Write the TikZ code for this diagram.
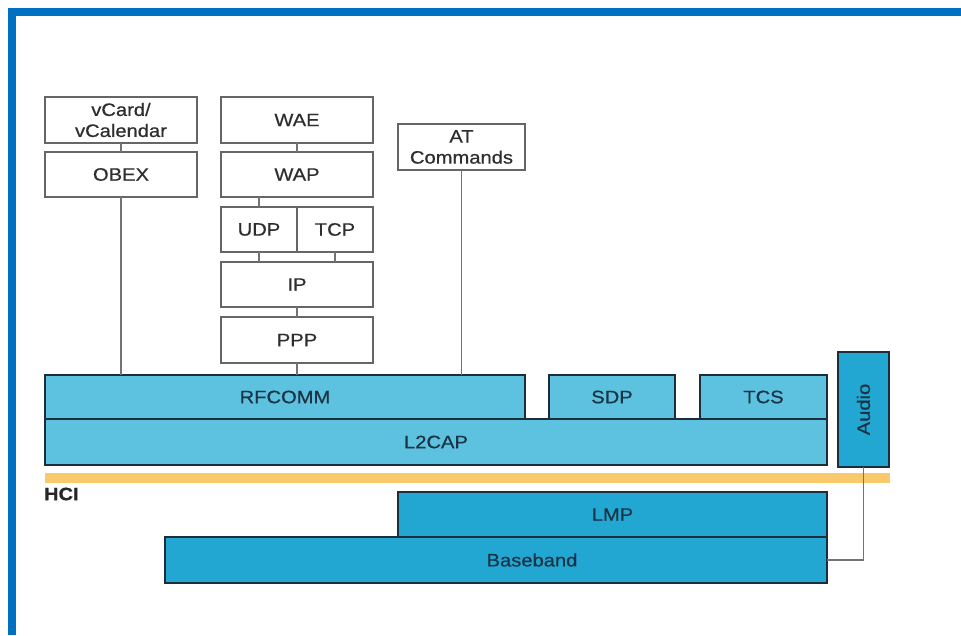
\documentclass[tikz,border=0pt]{standalone}
\usepackage{fontspec}
\setmainfont{Liberation Sans}[FakeStretch=1.12, FakeBold=0.6]
\definecolor{frameblue}{HTML}{0070C0}
\definecolor{lightcy}{HTML}{5CC2E0}
\definecolor{darkcy}{HTML}{22A6D2}
\definecolor{navyedge}{HTML}{1C2E3B}
\definecolor{hciorange}{HTML}{F9C96B}
\definecolor{graytext}{HTML}{2E2E2E}
\definecolor{bluetext}{HTML}{1A3446}
\begin{document}
\begin{tikzpicture}[x=1pt,y=-1pt,
  every node/.style={inner sep=0pt, outer sep=0pt},
  graybox/.style={draw=black!60, line width=1.2pt, fill=white, text=graytext,
    font=\fontsize{18}{21}\selectfont, align=center, anchor=north west},
  lbox/.style={draw=navyedge, line width=1.6pt, fill=lightcy, text=bluetext,
    font=\fontsize{18}{21}\selectfont, anchor=north west},
  dbox/.style={draw=navyedge, line width=1.6pt, fill=darkcy, text=bluetext,
    font=\fontsize{18}{21}\selectfont, anchor=north west},
  conn/.style={draw=black!55, line width=1.3pt},
  lbl/.style={text=bluetext, font=\fontsize{18}{21}\selectfont}
]
\useasboundingbox (0,0) rectangle (961,635);
\fill[white] (0,0) rectangle (961,635);
% frame
\fill[frameblue] (8,8) rectangle (961,16);
\fill[frameblue] (8,8) rectangle (16,635);

% upper gray stack
\node[graybox, minimum width=152pt, minimum height=46pt] (vcard) at (45,97)
  {\fontsize{18}{23}\selectfont vCard/\\vCalendar};
\node[graybox, minimum width=152pt, minimum height=45pt] (obex) at (45,152) {OBEX};
\node[graybox, minimum width=152pt, minimum height=46pt] (wae) at (221,97) {WAE};
\node[graybox, minimum width=152pt, minimum height=45pt] (wap) at (221,152) {WAP};
\node[graybox, minimum width=76pt, minimum height=45pt] (udp) at (221,207) {UDP};
\node[graybox, minimum width=76pt, minimum height=45pt] (tcp) at (297,207) {TCP};
\node[graybox, minimum width=152pt, minimum height=45pt] (ip) at (221,262) {IP};
\node[graybox, minimum width=152pt, minimum height=46pt] (ppp) at (221,317) {PPP};
\node[graybox, minimum width=127pt, minimum height=46pt] (atc) at (398,124)
  {\fontsize{18}{17}\selectfont AT\\Commands};

% HCI bar
\node[fill=hciorange, minimum width=845pt, minimum height=10pt, anchor=north west] (hcibar) at (45,473) {};
\node[anchor=west, text=black!85, font=\fontsize{18}{20}\selectfont\bfseries] (hci) at (44,494) {HCI};

% blue layers
\node[lbox, minimum width=480pt, minimum height=44pt] (rfcomm) at (45,375) {RFCOMM};
\node[lbox, minimum width=126pt, minimum height=44pt] (sdp) at (549,375) {SDP};
\node[lbox, minimum width=127pt, minimum height=44pt] (tcs) at (700,375) {TCS};
\node[lbox, minimum width=782pt, minimum height=46pt] (l2cap) at (45,419) {L2CAP};
\node[dbox, minimum width=51pt, minimum height=115pt] (audio) at (838,352) {};
\node[lbl, rotate=90] (audiotxt) at (audio.center) {Audio};
\node[dbox, minimum width=429pt, minimum height=45pt] (lmp) at (398,492) {LMP};
\node[dbox, minimum width=662pt, minimum height=46pt] (baseband) at (165,537) {};
\node[lbl] (bbtxt) at (532,560) {Baseband};

% connectors
\draw[conn] (vcard.south) -- (obex.north);
\draw[conn] (wae.south) -- (wap.north);
\draw[conn] (udp.north) -- (udp.north |- wap.south);
\draw[conn] (udp.south) -- (udp.south |- ip.north);
\draw[conn] (tcp.south) -- (tcp.south |- ip.north);
\draw[conn] (ip.south) -- (ppp.north);
\draw[conn] (ppp.south) -- (ppp.south |- rfcomm.north);
\draw[conn] (obex.south) -- (obex.south |- rfcomm.north);
\draw[conn] (atc.south) -- (atc.south |- rfcomm.north);
\draw[conn] (audio.south) |- (baseband.east);
\end{tikzpicture}
\end{document}
